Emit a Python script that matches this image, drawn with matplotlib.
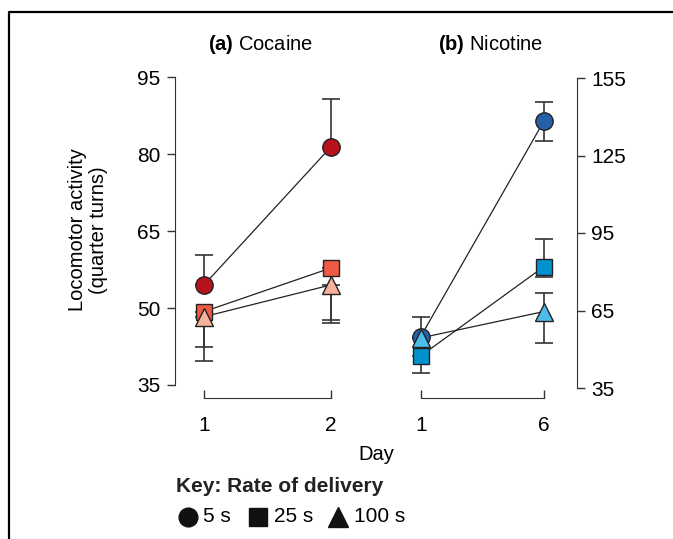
import matplotlib.pyplot as plt
from matplotlib.lines import Line2D

plt.rcParams['font.family'] = ['Liberation Sans', 'DejaVu Sans']
plt.rcParams['mathtext.fontset'] = 'custom'
plt.rcParams['mathtext.rm'] = 'Liberation Sans'
plt.rcParams['mathtext.bf'] = 'Liberation Sans:bold'

# cocaine panel (day 1, day 2)
coc_days = [1, 2]
coc_5s = [54.5, 81.4]
coc_25s = [49.3, 57.8]
coc_100s = [48.3, 54.5]
coc_5s_err = [[0, 0], [5.8, 9.3]]          # lower, upper
coc_25s_err = [[6.8, 10.1], [0, 0]]
coc_100s_err = [[8.6, 7.5], [0, 0]]

# nicotine panel (day 1, day 6)
nic_days = ['1', '6']
nic_5s = [54.9, 138.4]
nic_25s = [47.4, 82.0]
nic_100s = [54.4, 64.6]
nic_5s_err = [[0, 7.6], [7.7, 7.5]]
nic_25s_err = [[6.4, 3.9], [0, 10.6]]
nic_100s_err = [[0, 12.1], [0, 7.1]]

coc_colors = ['#b5121b', '#ee5a45', '#f8b29c']
nic_colors = ['#2660a8', '#0191cf', '#4cbde9']
markers = ['o', 's', '^']
msizes = [12.5, 11, 12.5]

W, H = 673, 539
fig = plt.figure(figsize=(W / 100, H / 100), dpi=100)


def px_axes(x0, y_top, w, h):
    return fig.add_axes([x0 / W, (H - y_top - h) / H, w / W, h / H])


def draw_panel(ax, x, series, errs, colors):
    for ys, err, c, m, ms in zip(series, errs, colors, markers, msizes):
        ax.plot(x, ys, color='#222222', lw=0.9, zorder=2, clip_on=False)
        ax.errorbar(x, ys, yerr=err, fmt='none', ecolor='#333333',
                    elinewidth=1.2, capsize=6.5, capthick=1.2, zorder=1, clip_on=False)
    for ys, c, m, ms in zip(series, colors, markers, msizes):
        ax.plot(x, ys, ls='none', marker=m, ms=ms, mfc=c, mec='#222222',
                mew=1.0, zorder=3, clip_on=False)


def style_axis(ax, side):
    ax.tick_params(axis='y', direction='out', length=5.8, width=1, pad=4.5,
                   labelsize=15, color='#333333')
    ax.tick_params(axis='x', direction='in', length=5.8, width=1, pad=13,
                   labelsize=15, color='#333333')
    for s in [side, 'bottom']:
        ax.spines[s].set_color('#333333')
    ax.patch.set_visible(False)


# (a) cocaine
ax1 = px_axes(175, 77, 185, 308)
xs1 = [0, 1]
draw_panel(ax1, xs1, [coc_5s, coc_25s, coc_100s],
           [coc_5s_err, coc_25s_err, coc_100s_err], coc_colors)
ax1.set_xlim(-29 / 127, 1 + 29 / 127)
ax1.set_ylim(35, 95)
ax1.set_yticks([35, 50, 65, 80, 95])
ax1.set_xticks(xs1)
ax1.set_xticklabels([str(d) for d in coc_days])
for s in ['top', 'right']:
    ax1.spines[s].set_visible(False)
ax1.spines['bottom'].set_position(('outward', 9.4))
ax1.spines['bottom'].set_bounds(0, 1)
style_axis(ax1, 'left')

# (b) nicotine
ax2 = px_axes(395, 78, 182, 310)
xs2 = [0, 1]
draw_panel(ax2, xs2, [nic_5s, nic_25s, nic_100s],
           [nic_5s_err, nic_25s_err, nic_100s_err], nic_colors)
ax2.set_xlim(-25.7 / 123.3, 1 + 33 / 123.3)
ax2.set_ylim(35, 155)
ax2.set_yticks([35, 65, 95, 125, 155])
ax2.set_xticks(xs2)
ax2.set_xticklabels(nic_days)
for s in ['top', 'left']:
    ax2.spines[s].set_visible(False)
ax2.yaxis.tick_right()
ax2.spines['bottom'].set_position(('outward', 7.2))
ax2.spines['bottom'].set_bounds(0, 1)
style_axis(ax2, 'right')

# panel titles
fig.text(261 / W, 1 - 45 / H, r'$\mathbf{(a)}$ Cocaine', ha='center', va='center',
         fontsize=14.5)
fig.text(491 / W, 1 - 45 / H, r'$\mathbf{(b)}$ Nicotine', ha='center', va='center',
         fontsize=14.5)

fig.text(88 / W, 1 - 230 / H, 'Locomotor activity\n(quarter turns)', rotation=90,
         ha='center', va='center', fontsize=14.5, linespacing=1.15)
fig.text(376 / W, 1 - 455 / H, 'Day', ha='center', va='center', fontsize=14.5)

# key
fig.text(176 / W, 1 - 487 / H, 'Key: Rate of delivery', ha='left', va='center',
         fontsize=15, fontweight='bold', color='#222222')
key_y = 1 - 517 / H
key_items = [('o', 13.5, 188, 203, '5 s'), ('s', 13, 258, 274, '25 s'),
             ('^', 15, 338, 354, '100 s')]
for m, ms, mx, tx, lab in key_items:
    fig.add_artist(Line2D([mx / W], [key_y], marker=m, ms=ms, color='#111111',
                          ls='none', transform=fig.transFigure))
    fig.text(tx / W, key_y, lab, ha='left', va='center', fontsize=15)

# outer frame (left and top edges)
fig.add_artist(Line2D([9 / W, 9 / W, 1], [0, 1 - 12 / H, 1 - 12 / H], color='black',
                      lw=1.6, transform=fig.transFigure))

fig.savefig('out.png', dpi=100)
